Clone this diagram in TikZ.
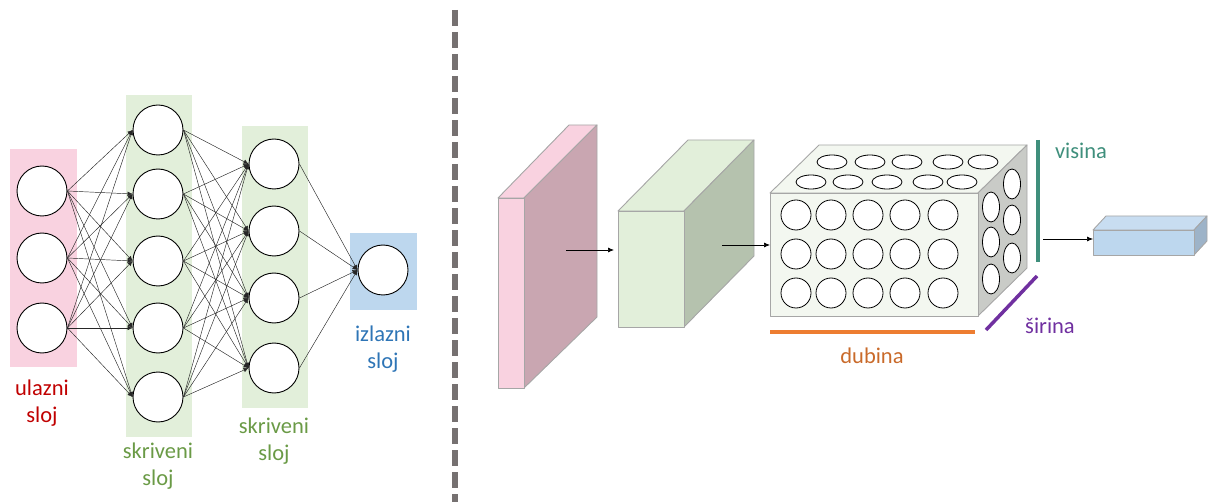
\documentclass[tikz,border=0pt]{standalone}
\usepackage{fontspec}
\setmainfont{Carlito}
\usetikzlibrary{arrows.meta}
\definecolor{pinkbg}{HTML}{F9D2E0}
\definecolor{greenbg}{HTML}{E2EFDA}
\definecolor{bluebg}{HTML}{BDD7EE}
\definecolor{redtxt}{HTML}{C00000}
\definecolor{greentxt}{HTML}{6A9A46}
\definecolor{bluetxt}{HTML}{2E75B6}
\definecolor{pinkside}{HTML}{C9A6B1}
\definecolor{greenside}{HTML}{B5C2AE}
\definecolor{boxfront}{HTML}{F3F7F0}
\definecolor{boxside}{HTML}{C9CBC7}
\definecolor{bluetop}{HTML}{C8DDF1}
\definecolor{blueside}{HTML}{9DB3C8}
\definecolor{edgegray}{HTML}{A6A6A6}
\definecolor{orangeln}{HTML}{ED7D31}
\definecolor{purpleln}{HTML}{7030A0}
\definecolor{tealln}{HTML}{3F8F7C}
\definecolor{dashgray}{HTML}{767171}
\begin{document}
\begin{tikzpicture}[x=1pt,y=-1pt,
  neuron/.style={circle,draw=black,line width=0.9pt,fill=white,minimum size=50pt,inner sep=0pt},
  conn/.style={draw=black!85,line width=0.45pt,-{Latex[length=5pt,width=4.5pt]}},
  lbl/.style={font=\fontsize{22.5}{27}\selectfont,align=center},
  face/.style={draw=edgegray,line width=0.9pt,line join=round},
  flow/.style={draw=black,line width=0.7pt,-{Latex[length=6pt,width=5pt]}},
  cell/.style={draw=black,line width=0.8pt,fill=white}]
\useasboundingbox (0,0) rectangle (1209,502);
% separator
\draw[dashgray,line width=6pt,dash pattern=on 16pt off 6pt] (455,10) -- (455,502);
% layer backgrounds
\fill[pinkbg] (10,149) rectangle (77,367);
\fill[greenbg] (126,95) rectangle (192,437);
\fill[greenbg] (242,126) rectangle (308,408);
\fill[bluebg] (350,233) rectangle (417,310);
% neurons
\foreach \y [count=\i] in {191,258,328} \node[neuron] (i\i) at (42,\y) {};
\foreach \y [count=\i] in {130,194,261,328,397} \node[neuron] (h\i) at (158,\y) {};
\foreach \y [count=\i] in {164,231,298,368} \node[neuron] (g\i) at (274,\y) {};
\node[neuron] (o1) at (383,270) {};
% connections
\foreach \a in {1,2,3} \foreach \b in {1,...,5} \draw[conn] (i\a.east) -- (h\b.west);
\foreach \a in {1,...,5} \foreach \b in {1,...,4} \draw[conn] (h\a.east) -- (g\b.west);
\foreach \a in {1,...,4} \draw[conn] (g\a.east) -- (o1.west);
% labels
\node[lbl,text=redtxt] (l1) at (42,403) {ulazni\\sloj};
\node[lbl,text=greentxt] (l2) at (158,466) {skriveni\\sloj};
\node[lbl,text=greentxt] (l3) at (274,441) {skriveni\\sloj};
\node[lbl,text=bluetxt] (l4) at (383,349) {izlazni\\sloj};
% ---------- right part ----------
% pink slab
\draw[face,fill=pinkbg] (498,198) -- (524,198) -- (597,125) -- (569,125) -- cycle;
\draw[face,fill=pinkside] (524,198) -- (597,125) -- (597,317) -- (524,388) -- cycle;
\draw[face,fill=pinkbg] (498,198) rectangle (524,388);
% green box
\draw[face,fill=greenbg] (618,211) -- (684,211) -- (754,140) -- (688,140) -- cycle;
\draw[face,fill=greenside] (684,211) -- (754,140) -- (754,256) -- (684,327) -- cycle;
\draw[face,fill=greenbg] (618,211) rectangle (684,327);
% big box
\draw[face,fill=boxfront] (770,193) -- (978,193) -- (1027,145) -- (819,145) -- cycle;
\draw[face,fill=boxside] (978,193) -- (1027,145) -- (1027,268) -- (978,316) -- cycle;
\draw[face,fill=boxfront] (770,193) rectangle (978,316);
\foreach \x in {796,831,868,905,943} \foreach \y in {215,254,293}
  \draw[cell] (\x,\y) circle[radius=15pt];
\foreach \x in {832,870,907,948,983} \draw[cell] (\x,162) ellipse[x radius=15pt,y radius=7pt];
\foreach \x in {811,848,887,928,962} \draw[cell] (\x,182) ellipse[x radius=15pt,y radius=7pt];
\foreach \y in {207,242,279} \draw[cell] (991,\y) ellipse[x radius=8.5pt,y radius=15pt];
\foreach \y in {184,220,258} \draw[cell] (1012,\y) ellipse[x radius=8.5pt,y radius=15pt];
% blue box
\draw[face,fill=bluetop] (1093,230) -- (1194,230) -- (1207,216) -- (1106,216) -- cycle;
\draw[face,fill=blueside] (1194,230) -- (1207,216) -- (1207,241) -- (1194,255) -- cycle;
\draw[face,fill=bluebg] (1093,230) rectangle (1194,255);
% flow arrows
\coordinate (a1s) at (566,250); \coordinate (a1e) at (614,250);
\coordinate (a2s) at (722,245); \coordinate (a2e) at (770,245);
\coordinate (a3s) at (1043,239); \coordinate (a3e) at (1093,239);
\draw[flow] (a1s) -- (a1e);
\draw[flow] (a2s) -- (a2e);
\draw[flow] (a3s) -- (a3e);
% dimension lines
\coordinate (d1) at (770,332); \coordinate (d2) at (975,332);
\draw[orangeln,line width=4pt] (d1) -- (d2);
\coordinate (w1) at (986,330); \coordinate (w2) at (1037,276);
\draw[purpleln,line width=3.5pt] (w1) -- (w2);
\coordinate (v1) at (1038,140); \coordinate (v2) at (1038,262);
\draw[tealln,line width=4pt] (v1) -- (v2);
\node[lbl,text=orangeln!85!black] (tdub) at (872,356) {dubina};
\node[lbl,text=purpleln] (tsir) at (1050,326) {širina};
\node[lbl,text=tealln] (tvis) at (1081,151) {visina};
\end{tikzpicture}
\end{document}
